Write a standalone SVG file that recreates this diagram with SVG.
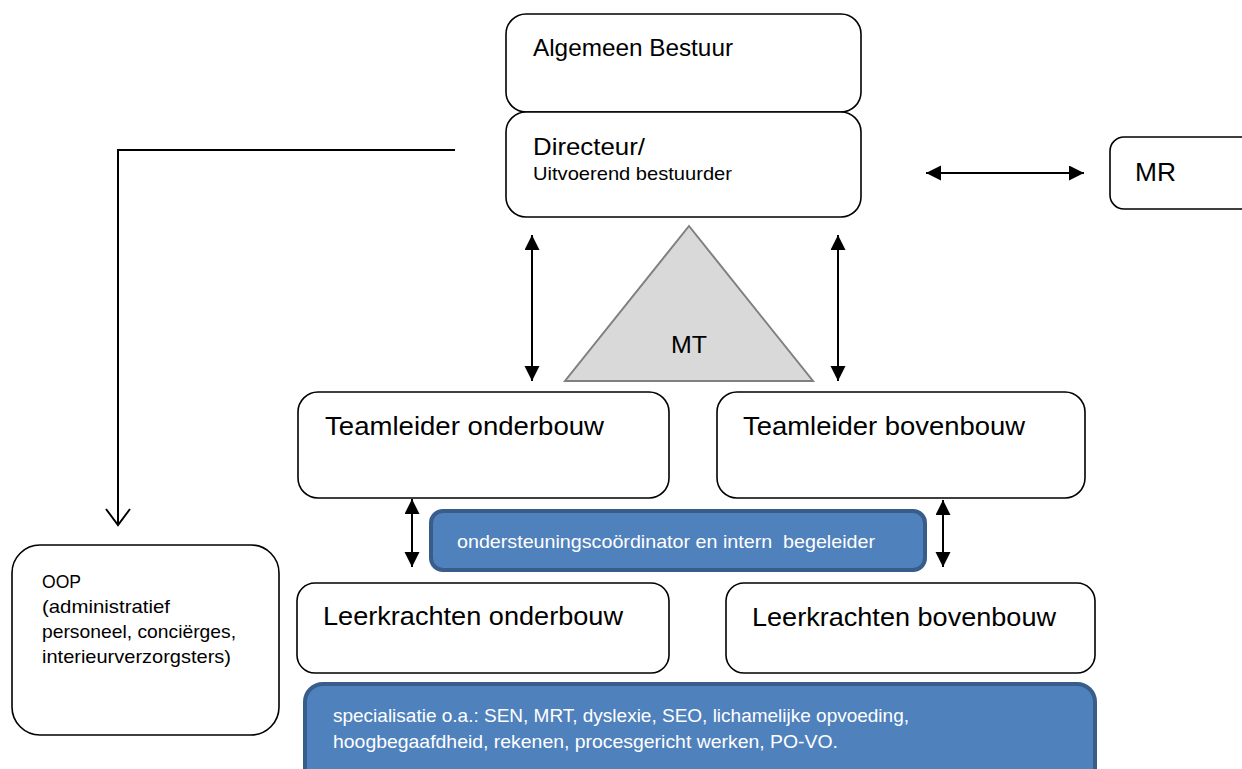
<svg xmlns="http://www.w3.org/2000/svg" width="1242" height="769" viewBox="0 0 1242 769">
<style>
text{font-family:"Liberation Sans",Arial,sans-serif;fill:#000}
.box{fill:#fff;stroke:#000;stroke-width:1.6}
.blue{fill:#4f81bd;stroke:#385d8a;stroke-width:4}
.wt{fill:#fff}
.conn{stroke:#000;stroke-width:2;fill:none}
.big{font-size:26px}
.mid{font-size:24px}
.sm{font-size:19px}
</style>
<defs>
<marker id="ah" markerUnits="userSpaceOnUse" markerWidth="16" markerHeight="16" refX="15" refY="7.5" orient="auto-start-reverse">
<path d="M0,0 L15,7.5 L0,15 z" fill="#000"/>
</marker>
</defs>
<rect width="1242" height="769" fill="#fff"/>
<g id="algemeen-bestuur">
<rect class="box" x="506" y="14" width="355" height="98" rx="20"/>
<text class="mid" x="533" y="56" textLength="200" lengthAdjust="spacingAndGlyphs">Algemeen Bestuur</text>
</g>
<g id="directeur">
<rect class="box" x="506" y="112" width="355" height="105" rx="20"/>
<text class="mid" x="533" y="155" textLength="112" lengthAdjust="spacingAndGlyphs">Directeur/</text>
<text class="sm" x="533" y="180" textLength="199" lengthAdjust="spacingAndGlyphs">Uitvoerend bestuurder</text>
</g>
<g id="mr">
<rect class="box" x="1110" y="137" width="150" height="72" rx="14"/>
<text class="big" x="1135" y="181" textLength="41" lengthAdjust="spacingAndGlyphs">MR</text>
</g>
<g id="mt">
<polygon points="689,226 813,381 565,381" fill="#d9d9d9" stroke="#808080" stroke-width="2"/>
<text class="mid" x="671" y="353" textLength="36" lengthAdjust="spacingAndGlyphs">MT</text>
</g>
<g id="teamleider-onderbouw">
<rect class="box" x="298" y="392" width="371" height="106" rx="20"/>
<text class="big" x="325" y="435" textLength="279" lengthAdjust="spacingAndGlyphs">Teamleider onderbouw</text>
</g>
<g id="teamleider-bovenbouw">
<rect class="box" x="717" y="392" width="368" height="106" rx="20"/>
<text class="big" x="743" y="435" textLength="282" lengthAdjust="spacingAndGlyphs">Teamleider bovenbouw</text>
</g>
<g id="ondersteuning">
<rect class="blue" x="431" y="511" width="494" height="59" rx="12"/>
<text class="sm wt" x="457" y="548" style="white-space:pre" textLength="418" lengthAdjust="spacingAndGlyphs">ondersteuningscoördinator en intern  begeleider</text>
</g>
<g id="leerkrachten-onderbouw">
<rect class="box" x="297" y="583" width="372" height="90" rx="18"/>
<text class="big" x="323" y="625" textLength="300" lengthAdjust="spacingAndGlyphs">Leerkrachten onderbouw</text>
</g>
<g id="leerkrachten-bovenbouw">
<rect class="box" x="726" y="583" width="369" height="90" rx="18"/>
<text class="big" x="752" y="626" textLength="304" lengthAdjust="spacingAndGlyphs">Leerkrachten bovenbouw</text>
</g>
<g id="oop">
<rect class="box" x="12" y="545" width="267" height="190" rx="28"/>
<text class="sm" x="42" y="588" textLength="39" lengthAdjust="spacingAndGlyphs">OOP</text>
<text class="sm" x="42" y="613" textLength="128" lengthAdjust="spacingAndGlyphs">(administratief</text>
<text class="sm" x="42" y="638" textLength="194" lengthAdjust="spacingAndGlyphs">personeel, conciërges,</text>
<text class="sm" x="42" y="663" textLength="189" lengthAdjust="spacingAndGlyphs">interieurverzorgsters)</text>
</g>
<g id="specialisatie">
<rect class="blue" x="305" y="684" width="790" height="110" rx="18"/>
<text class="sm wt" x="333" y="722" textLength="576" lengthAdjust="spacingAndGlyphs">specialisatie o.a.: SEN, MRT, dyslexie, SEO, lichamelijke opvoeding,</text>
<text class="sm wt" x="333" y="748" textLength="505" lengthAdjust="spacingAndGlyphs">hoogbegaafdheid, rekenen, procesgericht werken, PO-VO.</text>
</g>
<g id="connectors">
<polyline class="conn" points="455,150 118,150 118,525"/>
<polyline class="conn" points="106,509 118,525 130,509"/>
<line class="conn" x1="926" y1="173" x2="1084" y2="173" marker-start="url(#ah)" marker-end="url(#ah)"/>
<line class="conn" x1="532" y1="235" x2="532" y2="381" marker-start="url(#ah)" marker-end="url(#ah)"/>
<line class="conn" x1="838" y1="235" x2="838" y2="381" marker-start="url(#ah)" marker-end="url(#ah)"/>
<line class="conn" x1="412" y1="499" x2="412" y2="567" marker-start="url(#ah)" marker-end="url(#ah)"/>
<line class="conn" x1="943" y1="500" x2="943" y2="567" marker-start="url(#ah)" marker-end="url(#ah)"/>
</g>
</svg>
